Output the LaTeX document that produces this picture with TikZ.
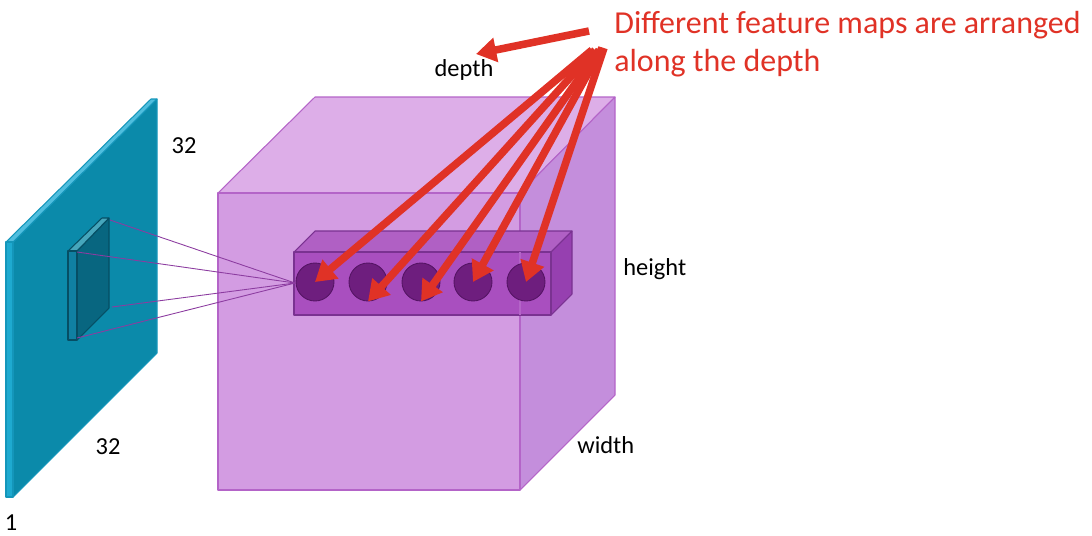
\documentclass[tikz,border=0pt]{standalone}
\usepackage{fontspec}
\setmainfont{Carlito}
\usetikzlibrary{arrows.meta, positioning}
\definecolor{slabfront}{RGB}{30,170,208}
\definecolor{slabtop}{RGB}{80,190,222}
\definecolor{slabside}{RGB}{11,138,170}
\definecolor{slabline}{RGB}{20,150,186}
\definecolor{kernfront}{RGB}{16,128,162}
\definecolor{kerntop}{RGB}{70,166,188}
\definecolor{kernside}{RGB}{8,102,128}
\definecolor{kernline}{RGB}{6,78,100}
\definecolor{cubefront}{RGB}{211,156,226}
\definecolor{cubetop}{RGB}{221,174,232}
\definecolor{cubeside}{RGB}{196,142,220}
\definecolor{cubeline}{RGB}{180,100,200}
\definecolor{barfront}{RGB}{169,79,191}
\definecolor{bartop}{RGB}{176,96,196}
\definecolor{barside}{RGB}{150,64,176}
\definecolor{barline}{RGB}{122,50,145}
\definecolor{fmapfill}{RGB}{110,30,126}
\definecolor{fmapline}{RGB}{85,20,100}
\definecolor{connpurple}{RGB}{140,60,160}
\definecolor{featred}{RGB}{224,50,38}

\begin{document}
\begin{tikzpicture}[
  x=0.02cm, y=-0.02cm,
  face/.style={draw=#1, line width=0.6pt, line join=round},
  lbl/.style={font=\fontsize{13.9}{16}\selectfont, inner sep=0pt, anchor=base},
  fmap/.style={circle, draw=fmapline, fill=fmapfill, line width=0.5pt,
               minimum size=0.76cm, inner sep=0pt},
  conn/.style={draw=connpurple, line width=0.5pt},
  redarr/.style={draw=featred, line width=4.3pt,
                 -{Triangle[length=11.5pt, width=13.5pt]}}
]
  \useasboundingbox (0,0) rectangle (1092,535);

  %% -- Input slab (32 x 32 x 1)
  \fill[face=slabline, fill=slabside] (13,242) -- (157,99) -- (157,353) -- (13,497) -- cycle;
  \fill[face=slabline, fill=slabtop]  (6,242) -- (13,242) -- (157,99) -- (151,99) -- cycle;
  \fill[face=slabline, fill=slabfront] (6,242) rectangle (13,497);

  %% -- Kernel on the slab
  \fill[face=kernline, fill=kernside] (77,251) -- (109,218) -- (109,308) -- (77,340) -- cycle;
  \fill[face=kernline, fill=kerntop]  (68,251) -- (77,251) -- (109,218) -- (102,218) -- cycle;
  \fill[face=kernline, fill=kernfront] (68,251) rectangle (77,340);
  \coordinate (k1) at (110,220);
  \coordinate (k2) at (77,252);
  \coordinate (k3) at (112,307);
  \coordinate (k4) at (77,338);

  %% -- Output volume
  \fill[face=cubeline, fill=cubetop]  (218,193) -- (315,97) -- (615,97) -- (520,193) -- cycle;
  \fill[face=cubeline, fill=cubeside] (520,193) -- (615,97) -- (615,395) -- (520,490) -- cycle;
  \fill[face=cubeline, fill=cubefront] (218,193) rectangle (520,490);

  %% -- Column of feature maps
  \fill[face=barline, fill=bartop]  (294,252) -- (315,231) -- (572,231) -- (551,252) -- cycle;
  \fill[face=barline, fill=barside] (551,252) -- (572,231) -- (572,294) -- (551,315) -- cycle;
  \fill[face=barline, fill=barfront] (294,252) rectangle (551,315);
  \draw[cubeline, line width=0.6pt] (520,252) -- (520,315);
  \coordinate (hit) at (295,283);

  \foreach \i/\x in {1/315, 2/368, 3/421, 4/473, 5/526}
    \node[fmap] (c\i) at (\x,282) {};

  \foreach \k in {k1,k2,k3,k4}
    \draw[conn] (\k) -- (hit);

  %% Labels
  \node[lbl] (n32a) at (184,153) {32};
  \node[lbl] (n32b) at (108,454) {32};
  \node[lbl] (none) at (11,530) {1};
  \node[lbl] (depth) at (464,76) {depth};
  \node[lbl, anchor=base west] (height) at (623,275) {height};
  \node[lbl, anchor=base west] (width) at (577,453) {width};

  \node[anchor=north west, inner sep=0pt, align=left, text=featred,
        font=\fontsize{18.2}{21.6}\selectfont] (note) at (614,11)
    {Different feature maps are arranged\\along the depth};

  %% Red arrows
  \coordinate (dsrc) at (589,31);
  \coordinate (dtip) at (476,54);
  \coordinate (s1) at (592,50);
  \coordinate (s2) at (595,50);
  \coordinate (s3) at (599,50);
  \coordinate (s4) at (602,48);
  \coordinate (s5) at (604,48);

  \draw[redarr] (dsrc) -- (dtip);
  \draw[redarr] (s1) -- (c1.center);
  \draw[redarr] (s2) -- (c2.south);
  \draw[redarr] (s3) -- (c3.south);
  \draw[redarr] (s4) -- (c4.center);
  \draw[redarr] (s5) -- (c5.center);

\end{tikzpicture}
\end{document}
